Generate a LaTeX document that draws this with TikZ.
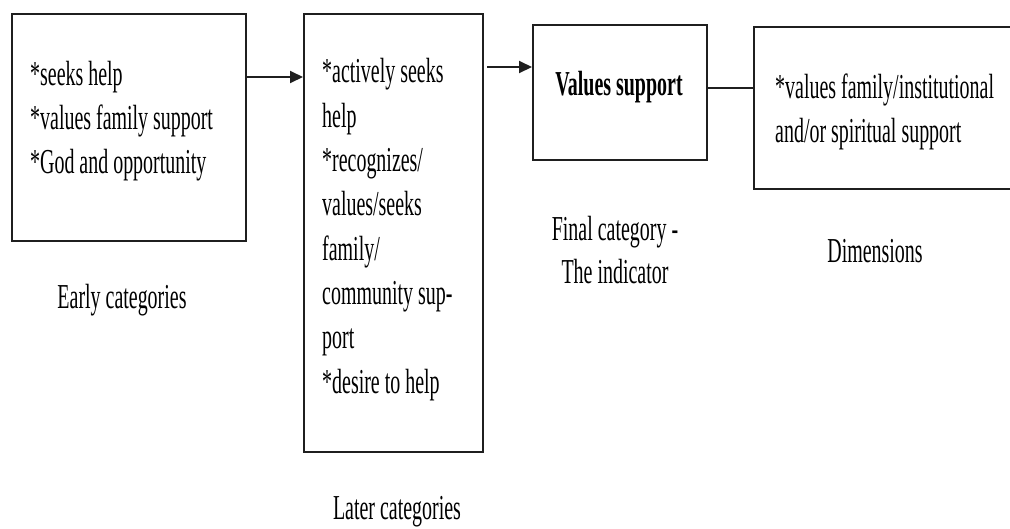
\documentclass[tikz,border=0pt]{standalone}
\usepackage{fontspec}
\setmainfont{Liberation Serif}[FakeStretch=0.57]
\usetikzlibrary{arrows.meta}
\begin{document}
\begin{tikzpicture}[x=1pt,y=-1pt,
  box/.style={draw=black!88, line width=2pt, inner sep=0pt, anchor=north west},
  txt/.style={anchor=base west, align=left, inner sep=0pt, font=\fontsize{35}{44.3}\selectfont},
  captxt/.style={anchor=base, align=center, inner sep=0pt, font=\fontsize{35}{43}\selectfont},
  link/.style={draw=black!88, line width=2pt},
  arr/.style={link, -{Triangle[length=13pt,width=12pt]}}]
\useasboundingbox (0,0) rectangle (1010,528);
\clip (0,0) rectangle (1010,528);

% boxes
\node[box, minimum width=234pt, minimum height=227pt] (b1) at (11,13) {};
\node[box, minimum width=179pt, minimum height=438pt] (b2) at (303,13) {};
\node[box, minimum width=174pt, minimum height=135pt] (b3) at (532,24) {};
\node[box, minimum width=300pt, minimum height=162pt] (b4) at (753,26) {};

% box contents (placed by the baseline of their last line)
\node[txt] (t1) at (30,173.6) {*seeks help\\*values family support\\*God and opportunity};
\node[txt] (t2) at (322,393) {*actively seeks\\help\\*recognizes/\\values/seeks\\family/\\community sup-\\port\\*desire to help};
\node[captxt, font=\fontsize{35}{43}\selectfont\bfseries] (t3) at (619,95) {Values support};
\node[txt] (t4) at (775,142.3) {*values family/institutional\\and/or spiritual support};

% captions
\node[captxt] (c1) at (122,308) {Early categories};
\node[captxt] (c2) at (397,519) {Later categories};
\node[captxt] (c3) at (615,283) {Final category -\\The indicator};
\node[captxt] (c4) at (875,262) {Dimensions};

% connector levels
\coordinate (y1) at (0,77);
\coordinate (y2) at (0,67);
\coordinate (y3) at (0,88);

\draw[arr] (b1.east |- y1) -- (b2.west |- y1);
\draw[arr] ([xshift=3pt]b2.east |- y2) -- (b3.west |- y2);
\draw[link] (b3.east |- y3) -- (b4.west |- y3);
\end{tikzpicture}
\end{document}
